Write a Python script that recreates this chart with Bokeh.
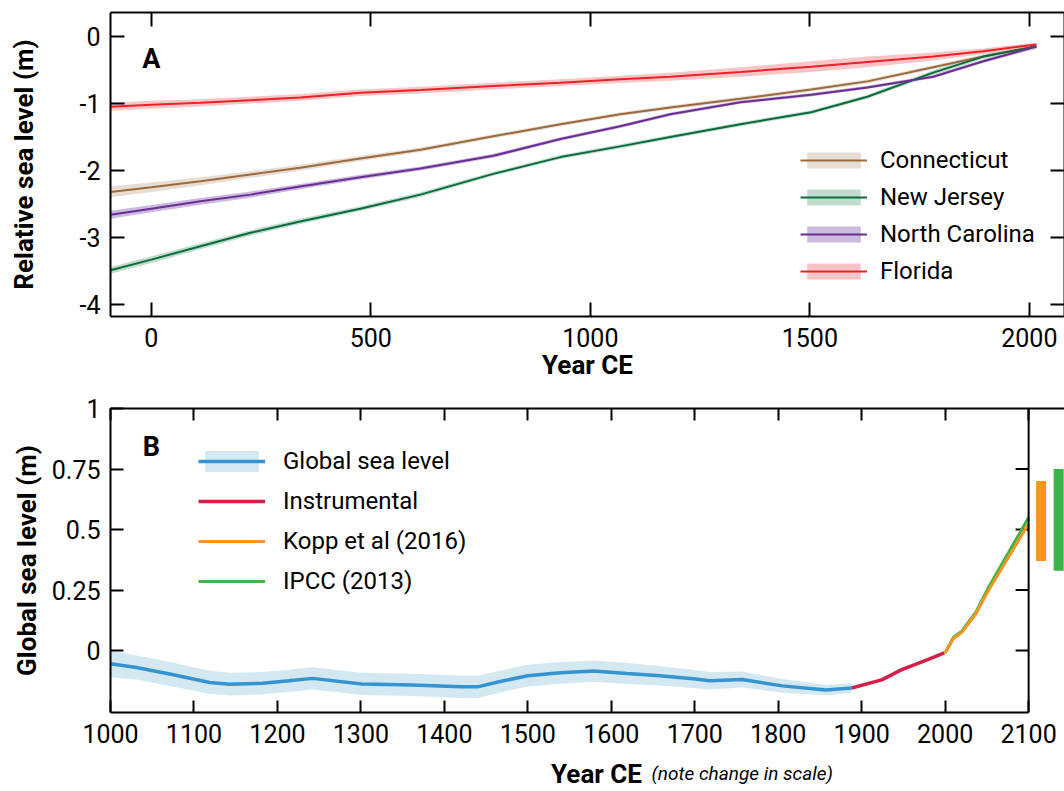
import math
from bokeh.plotting import figure
from bokeh.models import (Range1d, LinearAxis, FixedTicker, Legend, LegendItem,
                          Label, Span)
from bokeh.layouts import column
from bokeh.embed import file_html
from bokeh.resources import INLINE

FONT = "Roboto"

# ---------------- Panel A data: relative sea level (m) ----------------
years_a = [-93, 0, 112, 226, 339, 476, 613, 779, 932, 1068, 1182, 1342, 1503, 1631, 1781, 1895, 2016]
connecticut = [-2.32, -2.25, -2.16, -2.06, -1.96, -1.82, -1.69, -1.49, -1.31, -1.16, -1.06, -0.93, -0.79, -0.67, -0.46, -0.30, -0.14]
connecticut_err = [0.08, 0.07, 0.06, 0.05, 0.045, 0.04, 0.035, 0.03, 0.03, 0.03, 0.03, 0.03, 0.03, 0.03, 0.03, 0.03, 0.03]
new_jersey = [-3.49, -3.33, -3.13, -2.93, -2.76, -2.57, -2.36, -2.05, -1.80, -1.64, -1.50, -1.31, -1.13, -0.90, -0.54, -0.30, -0.15]
new_jersey_err = [0.05, 0.05, 0.045, 0.04, 0.04, 0.035, 0.035, 0.03, 0.03, 0.03, 0.03, 0.03, 0.03, 0.03, 0.035, 0.035, 0.04]
north_carolina = [-2.66, -2.57, -2.46, -2.36, -2.24, -2.10, -1.97, -1.78, -1.53, -1.34, -1.16, -0.98, -0.87, -0.76, -0.60, -0.37, -0.15]
north_carolina_err = [0.06, 0.055, 0.05, 0.045, 0.04, 0.035, 0.03, 0.03, 0.025, 0.025, 0.025, 0.025, 0.025, 0.025, 0.025, 0.025, 0.03]
florida = [-1.05, -1.02, -0.99, -0.95, -0.91, -0.84, -0.80, -0.74, -0.69, -0.64, -0.60, -0.53, -0.45, -0.38, -0.30, -0.22, -0.12]
florida_err = [0.06, 0.06, 0.055, 0.05, 0.05, 0.05, 0.05, 0.05, 0.05, 0.055, 0.06, 0.07, 0.08, 0.08, 0.06, 0.04, 0.03]
states = ["Connecticut", "New Jersey", "North Carolina", "Florida"]
yticks_a = [0, -1, -2, -3, -4]
ylabels_a = ["0", "-1", "-2", "-3", "-4"]
xticks_a = [0, 500, 1000, 1500, 2000]

# ---------------- Panel B data: global sea level (m) ----------------
gsl_years = [1000, 1031, 1071, 1119, 1143, 1182, 1214, 1242, 1301, 1361, 1420, 1440, 1468,
             1500, 1539, 1579, 1619, 1658, 1698, 1718, 1757, 1805, 1857, 1888]
gsl = [-0.055, -0.070, -0.097, -0.132, -0.139, -0.135, -0.125, -0.115, -0.138, -0.142, -0.150, -0.150, -0.127,
       -0.104, -0.092, -0.085, -0.095, -0.104, -0.117, -0.125, -0.120, -0.146, -0.163, -0.155]
gsl_err = [0.055, 0.050, 0.050, 0.048, 0.047, 0.046, 0.046, 0.046, 0.046, 0.046, 0.046, 0.046, 0.045,
           0.045, 0.045, 0.044, 0.043, 0.040, 0.038, 0.036, 0.033, 0.028, 0.022, 0.020]
instr_years = [1888, 1924, 1948, 1976, 1999]
instrumental = [-0.155, -0.121, -0.079, -0.042, -0.010]
proj_years = [2000, 2010, 2020, 2037, 2051, 2100]
kopp = [-0.010, 0.050, 0.075, 0.153, 0.243, 0.524]
ipcc = [-0.010, 0.055, 0.080, 0.160, 0.255, 0.550]
kopp_2100_range = [0.37, 0.70]
ipcc_2100_range = [0.33, 0.75]
yticks_b = [0, 0.25, 0.5, 0.75, 1]
ylabels_b = ["0", "0.25", "0.5", "0.75", "1"]
xticks_b = list(range(1000, 2101, 100))


def style_axis(ax, labels=True, tick_len=14):
    ax.axis_line_width = 2
    ax.axis_line_color = "black"
    ax.major_tick_line_width = 2
    ax.major_tick_line_color = "black"
    ax.major_tick_in = tick_len
    ax.major_tick_out = 0
    ax.minor_tick_line_color = None
    ax.major_label_text_font = FONT
    ax.major_label_text_font_size = "25px"
    ax.major_label_text_color = "black"
    ax.axis_label_text_font = FONT
    ax.axis_label_text_font_style = "bold"
    ax.axis_label_text_font_size = "26px"
    ax.axis_label_text_color = "black"
    if not labels:
        ax.major_label_text_font_size = "0px"
        ax.major_label_text_color = None
        ax.major_label_standoff = 0


# ================= Panel A =================
p1 = figure(width=1064, height=393, x_range=Range1d(-93, 2080), y_range=Range1d(-4.179, 0.358),
            output_backend="svg", toolbar_location=None,
            min_border_left=110, min_border_right=0, min_border_top=12, min_border_bottom=77)
p1.grid.visible = False
p1.outline_line_color = None

bx = p1.xaxis[0]
bx.ticker = FixedTicker(ticks=xticks_a)
style_axis(bx)
bx.major_label_standoff = 11
bx.axis_label = "Year CE"
bx.axis_label_standoff = 0

ly = p1.yaxis[0]
ly.ticker = FixedTicker(ticks=yticks_a)
ly.major_label_overrides = {t: s for t, s in zip(yticks_a, ylabels_a)}
style_axis(ly)
ly.major_label_standoff = 10
ly.axis_label = "Relative sea level (m)"
ly.axis_label_standoff = 38

top_a = LinearAxis(ticker=FixedTicker(ticks=xticks_a))
style_axis(top_a, labels=False)
p1.add_layout(top_a, "above")
right_a = LinearAxis(ticker=FixedTicker(ticks=yticks_a))
style_axis(right_a, labels=False)
p1.add_layout(right_a, "right")

series_a = [
    (connecticut, connecticut_err, "#9b6a3e", "#e7ddd3"),
    (new_jersey, new_jersey_err, "#0b6b3b", "#c0dccc"),
    (north_carolina, north_carolina_err, "#6a2e93", "#cbbadd"),
    (florida, florida_err, "#ed2127", "#f9c5c7"),
]
band_rs = []
line_rs = []
for (vals, err, lc, bc) in series_a:
    lo = [v - e for v, e in zip(vals, err)]
    hi = [v + e for v, e in zip(vals, err)]
    band_rs.append(p1.varea(x=years_a, y1=lo, y2=hi, fill_color=bc, fill_alpha=1.0))
for (vals, err, lc, bc) in series_a:
    line_rs.append(p1.line(years_a, vals, line_color=lc, line_width=2))
items_a = [LegendItem(label=name, renderers=[b, l]) for name, b, l in zip(states, band_rs, line_rs)]

leg_a = Legend(items=items_a, location=(690, 31), glyph_width=67, glyph_height=20,
               label_text_font=FONT, label_text_font_size="24px", label_text_color="black",
               label_standoff=13, spacing=9, padding=0, margin=0, label_height=20,
               border_line_color=None, background_fill_alpha=0)
p1.add_layout(leg_a)

p1.add_layout(Label(x=0, y=-0.343, text="A", text_font=FONT, text_font_style="bold",
                    text_font_size="27px", text_color="black",
                    text_align="center", text_baseline="middle"))

# ================= Panel B =================
p2 = figure(width=1064, height=359, x_range=Range1d(1000, 2143), y_range=Range1d(-0.256, 1.0),
            output_backend="svg", toolbar_location=None,
            min_border_left=107, min_border_right=0, min_border_top=15, min_border_bottom=40)
p2.grid.visible = False
p2.outline_line_color = None

bx2 = p2.xaxis[0]
bx2.ticker = FixedTicker(ticks=xticks_b)
bx2.bounds = (xticks_b[0], xticks_b[-1])
style_axis(bx2, tick_len=12)
bx2.major_label_standoff = 11

ly2 = p2.yaxis[0]
ly2.ticker = FixedTicker(ticks=yticks_b)
ly2.major_label_overrides = {t: s for t, s in zip(yticks_b, ylabels_b)}
style_axis(ly2, tick_len=13)
ly2.major_label_standoff = 10
ly2.axis_label = "Global sea level (m)"
ly2.axis_label_standoff = 7

top_b = LinearAxis(ticker=FixedTicker(ticks=xticks_b))
style_axis(top_b, labels=False, tick_len=12)
p2.add_layout(top_b, "above")

# scale-break frame line at 2100 with inward ticks
p2.add_layout(Span(location=xticks_b[-1], dimension="height", line_color="black", line_width=2))
p2.ray(x=[xticks_b[-1]] * (len(yticks_b) - 1), y=yticks_b[:-1], length=13, length_units="screen",
       angle=math.pi, line_color="black", line_width=2)

glo = [v - e for v, e in zip(gsl, gsl_err)]
ghi = [v + e for v, e in zip(gsl, gsl_err)]
gband = p2.varea(x=gsl_years, y1=glo, y2=ghi, fill_color="#d4e8f2")
gline = p2.line(gsl_years, gsl, line_color="#3593d0", line_width=3.5)
iline = p2.line(instr_years, instrumental, line_color="#d51f4b", line_width=3.5)
pline = p2.line(proj_years, ipcc, line_color="#3cb44a", line_width=3)
kline = p2.line(proj_years, kopp, line_color="#f7941d", line_width=3)

p2.vbar(x=[2115], bottom=[kopp_2100_range[0]], top=[kopp_2100_range[1]], width=12,
        fill_color="#f7941d", line_color=None)
p2.vbar(x=[2136], bottom=[ipcc_2100_range[0]], top=[ipcc_2100_range[1]], width=12,
        fill_color="#3cb44a", line_color=None)

leg_b = Legend(items=[LegendItem(label="Global sea level", renderers=[gband, gline]),
                      LegendItem(label="Instrumental", renderers=[iline]),
                      LegendItem(label="Kopp et al (2016)", renderers=[kline]),
                      LegendItem(label="IPCC (2013)", renderers=[pline])],
               location=(88, 117), glyph_width=67, glyph_height=26,
               label_text_font=FONT, label_text_font_size="24px", label_text_color="black",
               label_standoff=18, spacing=12, padding=0, margin=0, label_height=26,
               border_line_color=None, background_fill_alpha=0)
p2.add_layout(leg_b)

p2.add_layout(Label(x=1049, y=0.839, text="B", text_font=FONT, text_font_style="bold",
                    text_font_size="27px", text_color="black",
                    text_align="center", text_baseline="middle"))

# ============ Panel B x-axis title strip (bold title + italic note) ============
# (frames of the stacked figures are aligned by the column layout, so the
#  strip's frame starts where panel B's frame starts)
p3 = figure(width=1064, height=39, x_range=Range1d(0, 1064), y_range=Range1d(0, 39),
            output_backend="svg", toolbar_location=None, x_axis_type=None, y_axis_type=None,
            title=None, min_border=0, min_border_left=0, min_border_right=0,
            min_border_top=0, min_border_bottom=0)
p3.grid.visible = False
p3.outline_line_color = None
p3.add_layout(Label(x=486, y=18, x_units="screen", y_units="screen", text="Year CE",
                    text_font=FONT, text_font_style="bold", text_color="black",
                    text_font_size="26px", text_align="center", text_baseline="alphabetic"))
p3.add_layout(Label(x=541, y=18, x_units="screen", y_units="screen",
                    text="(note change in scale)", text_font=FONT, text_color="black",
                    text_font_style="italic", text_font_size="19px",
                    text_align="left", text_baseline="alphabetic"))

layout = column(p1, p2, p3, spacing=0)
open("out.html", "w").write(file_html(layout, INLINE))
